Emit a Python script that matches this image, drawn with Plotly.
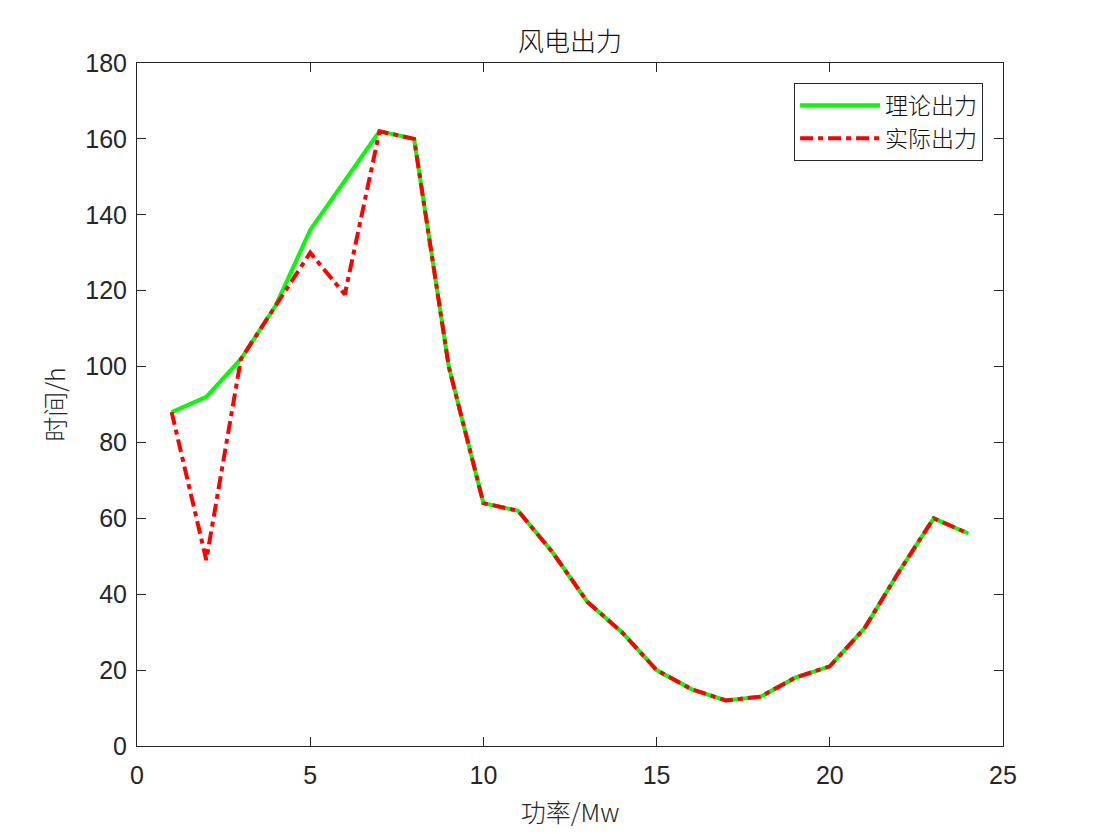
import plotly.graph_objects as go

hours = list(range(1, 25))
theory = [88, 92, 102, 116, 136, 149, 162, 160, 100, 64, 62, 51, 38, 30, 20, 15, 12, 13, 18, 21, 31, 46, 60, 56]
actual = [88, 49, 102, 116, 130, 119, 162, 160, 100, 64, 62, 51, 38, 30, 20, 15, 12, 13, 18, 21, 31, 46, 60, 56]

title_text = "风电出力"
x_label = "功率/Mw"
y_label = "时间/h"
names = ["理论出力", "实际出力"]

x_ticks = [0, 5, 10, 15, 20, 25]
y_ticks = [0, 20, 40, 60, 80, 100, 120, 140, 160, 180]

cjk = "Noto Sans CJK SC"
axis_color = "#262626"

fig = go.Figure()
fig.add_trace(go.Scatter(x=hours, y=theory, mode="lines", name=names[0],
                         line=dict(color="#00FF00", width=4)))
fig.add_trace(go.Scatter(x=hours, y=actual, mode="lines", name=names[1],
                         line=dict(color="#FF0000", width=4, dash="13px,5px,5px,5px")))

axis_common = dict(
    showgrid=False, zeroline=False, showline=True, linecolor=axis_color, linewidth=1,
    mirror="allticks", ticks="inside", ticklen=9, tickcolor=axis_color, tickwidth=1,
    tickfont=dict(family="Arial, Liberation Sans", size=25, color=axis_color),
)

fig.update_layout(
    width=1103, height=834,
    margin=dict(l=129, r=108, t=55, b=96),
    paper_bgcolor="white", plot_bgcolor="white",
    title=dict(text=title_text, x=0.5, xref="paper", y=1 - 34 / 834, yref="container",
               xanchor="center", yanchor="middle",
               font=dict(family=cjk, size=26, color="#111111", weight=300)),
    xaxis=dict(range=[0, 25], tickvals=x_ticks, ticklabelstandoff=7,
               title=dict(text=x_label, standoff=16,
                          font=dict(family=cjk, size=25, color=axis_color, weight=300)),
               **axis_common),
    yaxis=dict(range=[0, 180], tickvals=y_ticks, ticklabelstandoff=4,
               title=dict(text=y_label, standoff=12,
                          font=dict(family=cjk, size=25, color=axis_color, weight=300)),
               **axis_common),
    legend=dict(x=0.977, y=0.971, xanchor="right", yanchor="top",
                bgcolor="white", bordercolor="#262626", borderwidth=1,
                font=dict(family=cjk, size=23, color="#111111", weight=300),
                itemwidth=80, tracegroupgap=0),
    showlegend=True,
)

fig.write_html("out.html")
